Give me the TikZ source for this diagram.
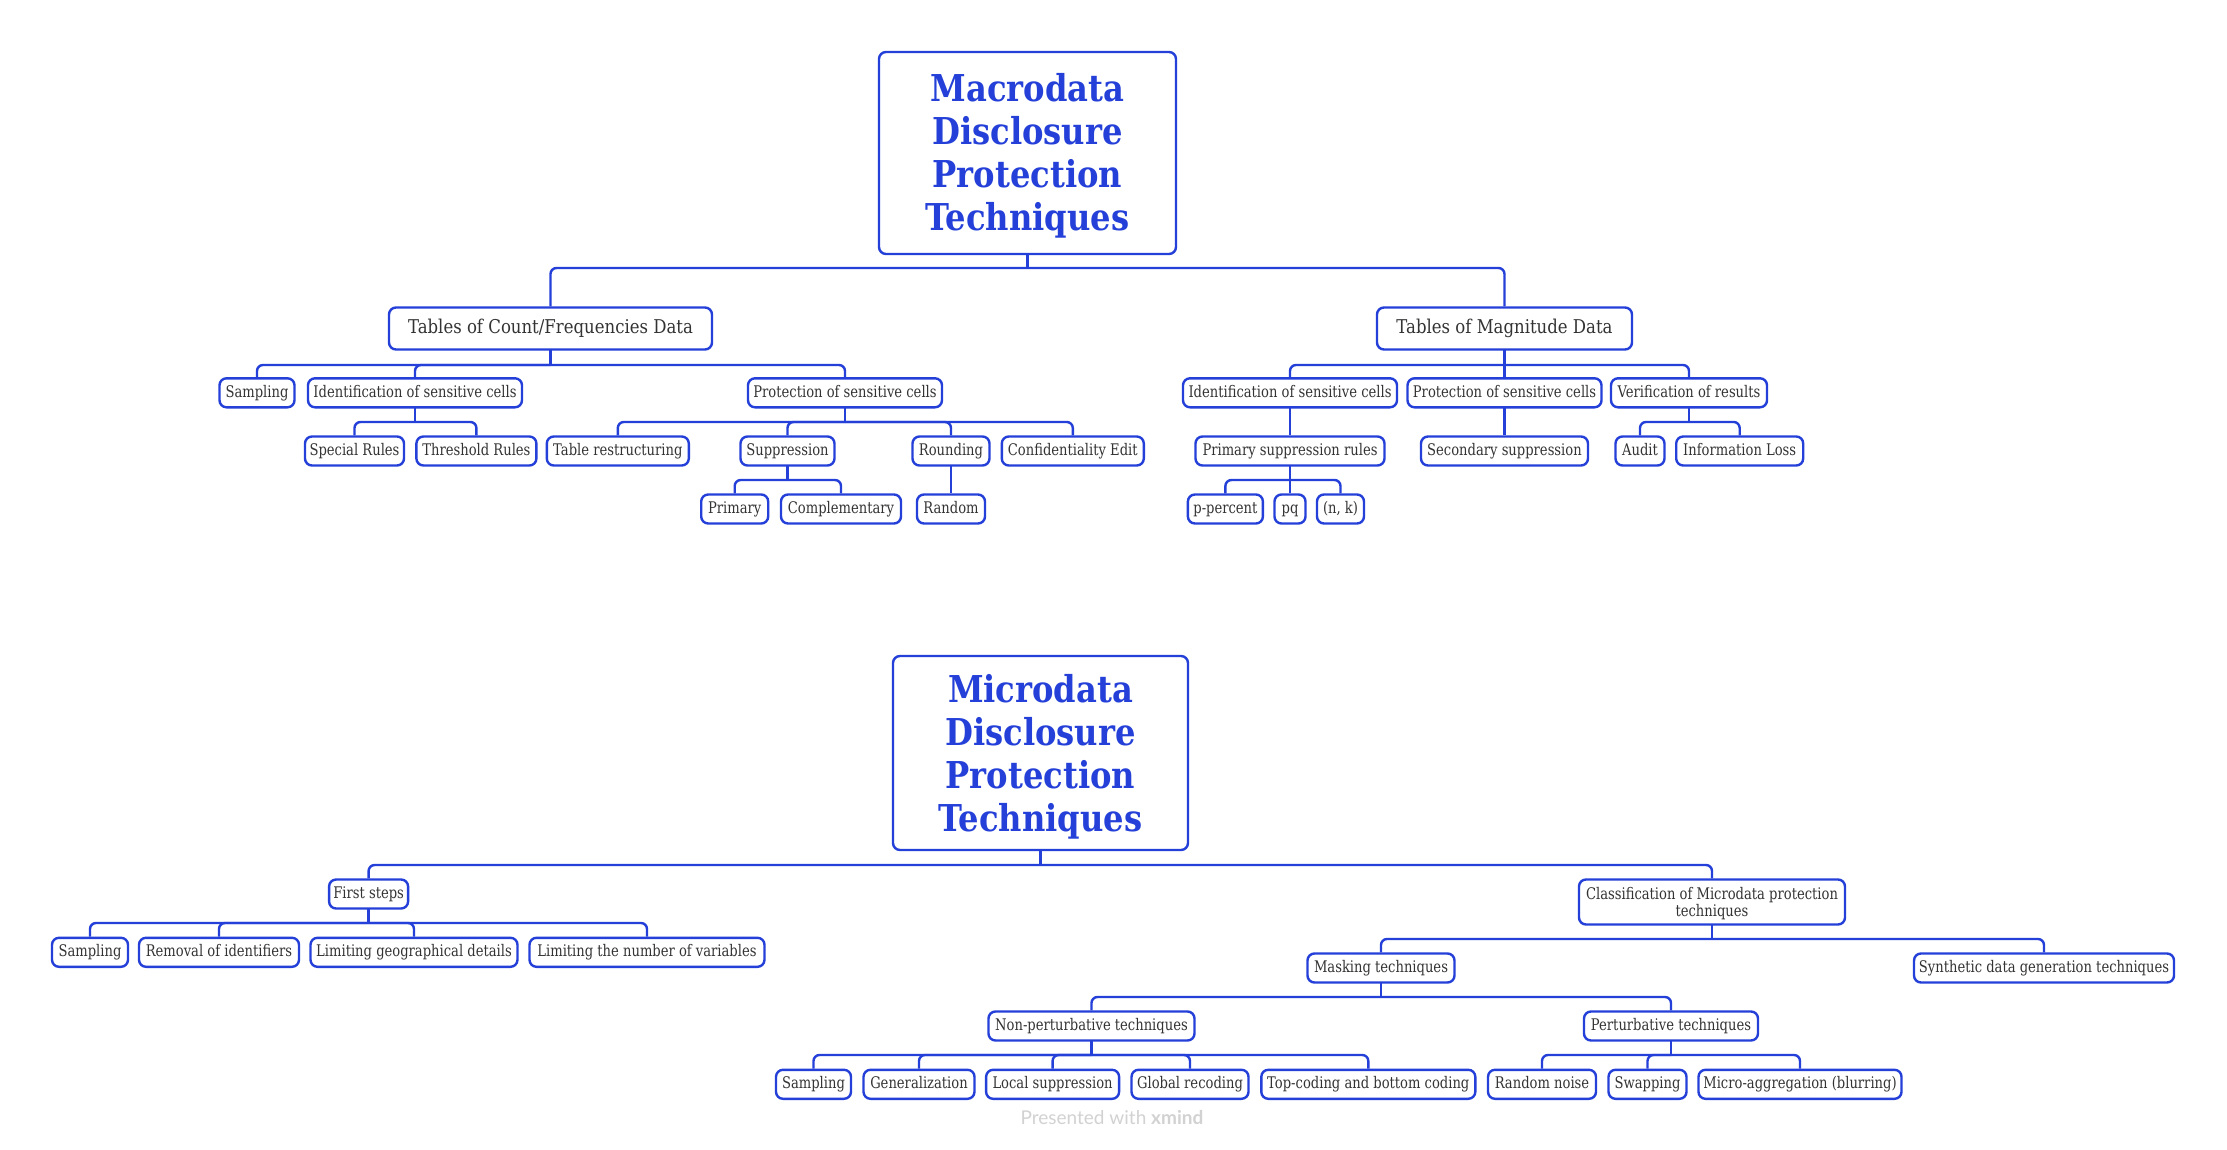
\documentclass[tikz,border=0pt]{standalone}
\usepackage{fontspec}
\newfontfamily\nf{DejaVu Serif}[FakeStretch=0.87]
\newfontfamily\nfl{DejaVu Serif}[FakeStretch=0.82]
\newfontfamily\wmf{Lato}
\definecolor{xblue}{HTML}{2440D8}
\definecolor{xtext}{HTML}{333333}
\definecolor{wmgray}{HTML}{D2D2D2}
\newcommand\link[3]{%
  \draw[cline, line cap=rect] (#1.south) -- (#1.south |- 0,#2);
  \draw[cline, rounded corners=6pt] (#1.south |- 0,#2) -| (#3.north);
}
\begin{document}
\begin{tikzpicture}[x=1pt,y=-1pt,
  box/.style={draw=xblue, line width=2.4pt, rounded corners=7pt, fill=white, text=xtext, inner sep=0pt, align=center},
  leaf/.style={box, minimum height=29pt, text height=1.0em, text depth=0.08em, font=\nfl\fontsize{16}{17}\selectfont},
  mid/.style={box, minimum height=42pt, text height=1.0em, text depth=0.08em, font=\nf\fontsize{19}{21}\selectfont},
  rootbox/.style={box, text=xblue, font=\nf\bfseries\fontsize{37}{43}\selectfont},
  cline/.style={draw=xblue, line width=2.4pt},
]
\useasboundingbox[fill=white] (0,0) rectangle (2227,1150);

% ---------------- Macrodata ----------------
\node[rootbox, minimum width=297pt, minimum height=202pt] (mroot) at (1027.5,153) {\rule{0pt}{0.92em}Macrodata\\Disclosure\\Protection\\Techniques};
\node[mid, minimum width=323pt] (cf) at (550.5,328.5) {Tables of Count/Frequencies Data};
\node[mid, minimum width=255pt] (md) at (1504.5,328.5) {Tables of Magnitude Data};

\node[leaf, minimum width=75pt]  (cfs) at (257,392.8) {Sampling};
\node[leaf, minimum width=214pt] (cfi) at (415,392.8) {Identification of sensitive cells};
\node[leaf, minimum width=194pt] (cfp) at (845,392.8) {Protection of sensitive cells};
\node[leaf, minimum width=214pt] (mdi) at (1290,392.8) {Identification of sensitive cells};
\node[leaf, minimum width=194pt] (mdp) at (1504.5,392.8) {Protection of sensitive cells};
\node[leaf, minimum width=156pt] (mdv) at (1689,392.8) {Verification of results};

\node[leaf, minimum width=99pt]  (sr)  at (354.5,451) {Special Rules};
\node[leaf, minimum width=120pt] (tr)  at (476.4,451) {Threshold Rules};
\node[leaf, minimum width=142pt] (trs) at (617.8,451) {Table restructuring};
\node[leaf, minimum width=94pt]  (sup) at (787.5,451) {Suppression};
\node[leaf, minimum width=77pt]  (rnd) at (951,451) {Rounding};
\node[leaf, minimum width=142pt] (ce)  at (1072.8,451) {Confidentiality Edit};
\node[leaf, minimum width=189pt] (psr) at (1290,451) {Primary suppression rules};
\node[leaf, minimum width=167pt] (ss)  at (1504.5,451) {Secondary suppression};
\node[leaf, minimum width=49pt]  (aud) at (1640,451) {Audit};
\node[leaf, minimum width=127pt] (il)  at (1739.7,451) {Information Loss};

\node[leaf, minimum width=67pt]  (pri) at (734.7,509) {Primary};
\node[leaf, minimum width=120pt] (cmp) at (841,509) {Complementary};
\node[leaf, minimum width=68pt]  (ran) at (951,509) {Random};
\node[leaf, minimum width=75pt]  (pp)  at (1225.4,509) {p-percent};
\node[leaf, minimum width=31pt]  (pq)  at (1290,509) {pq};
\node[leaf, minimum width=47pt]  (nk)  at (1340.5,509) {(n, k)};

\link{mroot}{268}{cf}
\link{mroot}{268}{md}
\link{cf}{365}{cfs}
\link{cf}{365}{cfi}
\link{cf}{365}{cfp}
\link{md}{365}{mdi}
\link{md}{365}{mdp}
\link{md}{365}{mdv}
\link{cfi}{422}{sr}
\link{cfi}{422}{tr}
\link{cfp}{422}{trs}
\link{cfp}{422}{sup}
\link{cfp}{422}{rnd}
\link{cfp}{422}{ce}
\link{mdi}{422}{psr}
\link{mdp}{422}{ss}
\link{mdv}{422}{aud}
\link{mdv}{422}{il}
\link{sup}{480}{pri}
\link{sup}{480}{cmp}
\link{rnd}{480}{ran}
\link{psr}{480}{pp}
\link{psr}{480}{pq}
\link{psr}{480}{nk}

% ---------------- Microdata ----------------
\node[rootbox, minimum width=295pt, minimum height=194pt] (uroot) at (1040.5,753) {\rule{0pt}{0.98em}Microdata\\Disclosure\\Protection\\Techniques};
\node[leaf, minimum width=79pt] (fs) at (368.6,894) {First steps};
\node[box, minimum width=266pt, minimum height=45pt, font=\nfl\fontsize{16}{17}\selectfont] (cl) at (1712,902) {\rule{0pt}{0.95em}Classification of Microdata protection\\techniques};

\node[leaf, minimum width=76pt]  (fsa) at (90,952.3) {Sampling};
\node[leaf, minimum width=160pt] (fsb) at (219,952.3) {Removal of identifiers};
\node[leaf, minimum width=207pt] (fsc) at (414,952.3) {Limiting geographical details};
\node[leaf, minimum width=235pt] (fsd) at (647,952.3) {Limiting the number of variables};

\node[leaf, minimum width=147pt] (mask) at (1381,968) {Masking techniques};
\node[leaf, minimum width=260pt] (syn)  at (2044,968) {Synthetic data generation techniques};

\node[leaf, minimum width=206pt] (np) at (1091.5,1026) {Non-perturbative techniques};
\node[leaf, minimum width=174pt] (pt) at (1671,1026) {Perturbative techniques};

\node[leaf, minimum width=75pt]  (npa) at (813.5,1084.3) {Sampling};
\node[leaf, minimum width=111pt] (npb) at (919,1084.3) {Generalization};
\node[leaf, minimum width=133pt] (npc) at (1052.6,1084.3) {Local suppression};
\node[leaf, minimum width=117pt] (npd) at (1190,1084.3) {Global recoding};
\node[leaf, minimum width=214pt] (npe) at (1368.3,1084.3) {Top-coding and bottom coding};
\node[leaf, minimum width=108pt] (pta) at (1542,1084.3) {Random noise};
\node[leaf, minimum width=78pt]  (ptb) at (1647.5,1084.3) {Swapping};
\node[leaf, minimum width=203pt] (ptc) at (1800,1084.3) {Micro-aggregation (blurring)};

\link{uroot}{865}{fs}
\link{uroot}{865}{cl}
\link{fs}{923}{fsa}
\link{fs}{923}{fsb}
\link{fs}{923}{fsc}
\link{fs}{923}{fsd}
\link{cl}{939}{mask}
\link{cl}{939}{syn}
\link{mask}{997}{np}
\link{mask}{997}{pt}
\link{np}{1055}{npa}
\link{np}{1055}{npb}
\link{np}{1055}{npc}
\link{np}{1055}{npd}
\link{np}{1055}{npe}
\link{pt}{1055}{pta}
\link{pt}{1055}{ptb}
\link{pt}{1055}{ptc}

\node[text=wmgray, font=\wmf\fontsize{19}{20}\selectfont, inner sep=0pt] (wm) at (1112,1118) {Presented with \textbf{xmind}};
\end{tikzpicture}
\end{document}
